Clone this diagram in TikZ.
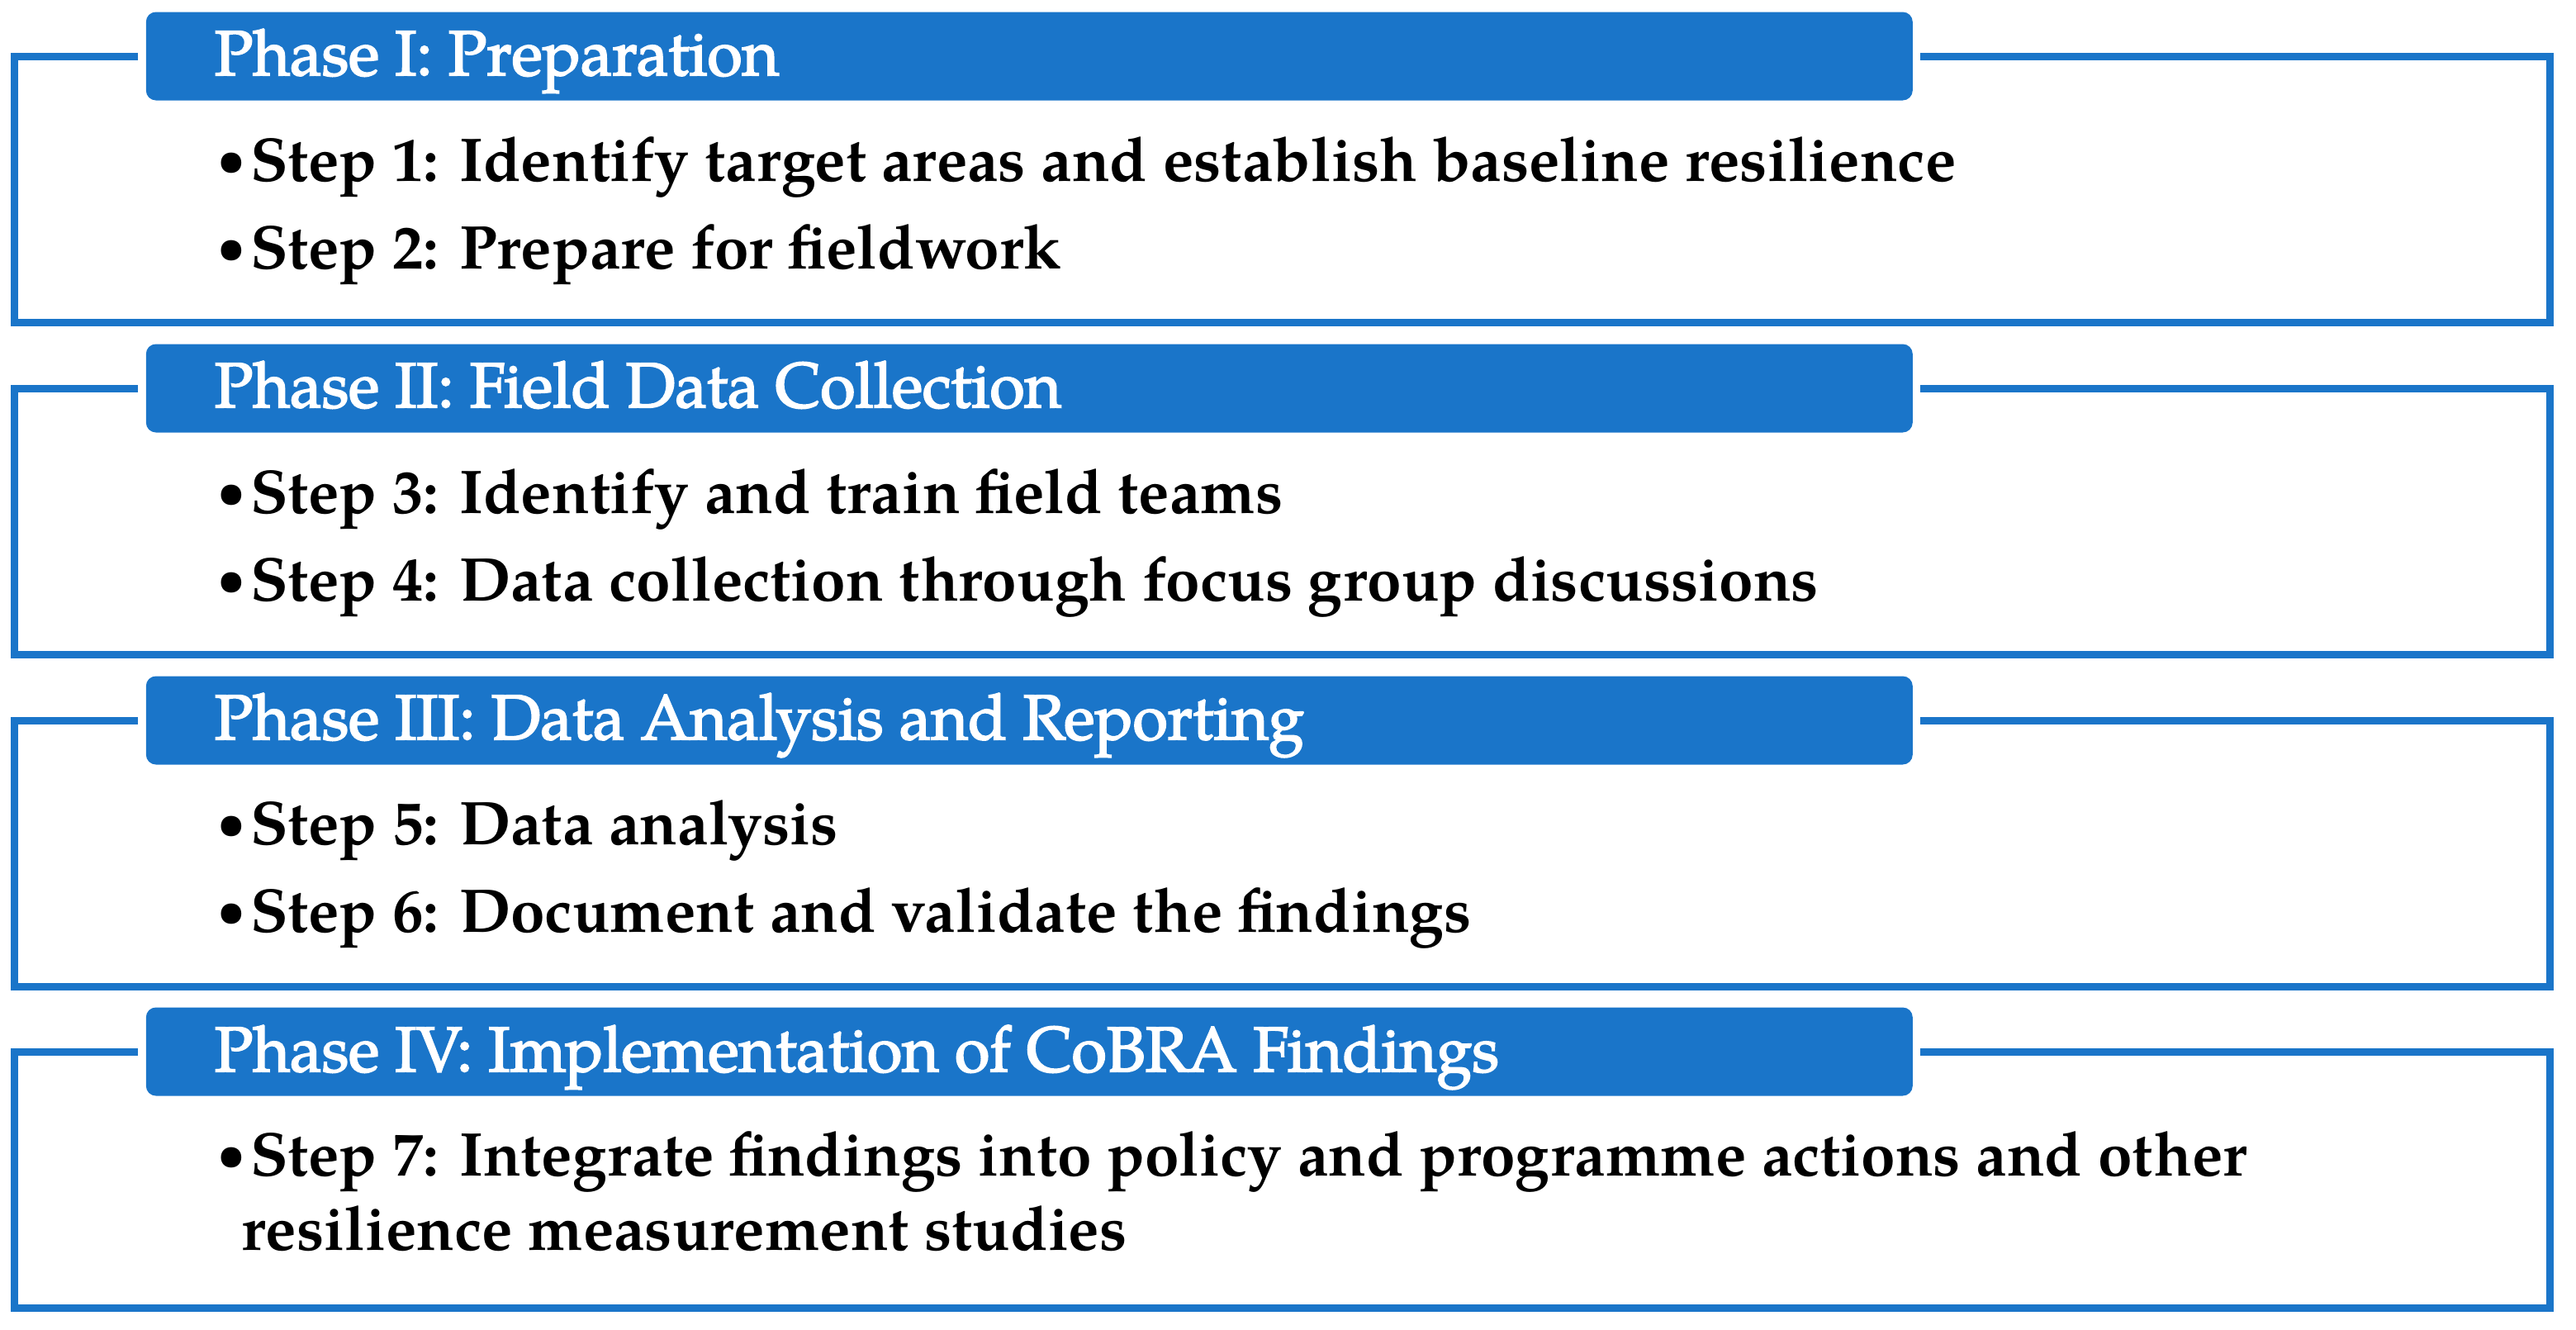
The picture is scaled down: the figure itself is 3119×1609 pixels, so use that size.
\documentclass[tikz,border=0pt]{standalone}
\usepackage{fontspec}
\setmainfont{TeX Gyre Pagella}
\newfontfamily\headfont{TeX Gyre Pagella}[FakeBold=2.5]
\definecolor{phaseblue}{RGB}{26,117,201}
\newcommand\stepbul{\makebox[10pt][l]{\raisebox{1.9pt}{\scalebox{0.75}{•}}}}
\begin{document}
\begin{tikzpicture}[x=0.25pt,y=-0.25pt,
  frame/.style={draw=phaseblue,line width=2.25pt,line join=miter},
  header/.style={fill=phaseblue,rounded corners=3pt,inner sep=0pt,anchor=west,
    minimum width=534.75pt,minimum height=26.75pt},
  headtext/.style={anchor=base west,inner sep=0pt,text=white,
    font=\fontsize{19.25}{23}\headfont},
  steptext/.style={anchor=base west,inner sep=0pt,
    font=\fontsize{18.7}{23}\selectfont\bfseries}]
\useasboundingbox (0,0) rectangle (3119,1609);

% Phase I
\draw[frame] (167,68) -- (17.5,68) -- (17.5,390) -- (3087.5,390) -- (3087.5,68) -- (2325,68);
\node[header] (h1) at (176,68) {};
\node[headtext] (h1t) at (259,91) {Phase I: Preparation};
\node[steptext] (s1) at (263,219) {\stepbul Step 1: Identify target areas and establish baseline resilience};
\node[steptext] (s2) at (263,325) {\stepbul Step 2: Prepare for fieldwork};

% Phase II
\draw[frame] (167,470) -- (17.5,470) -- (17.5,792) -- (3087.5,792) -- (3087.5,470) -- (2325,470);
\node[header] (h2) at (176,470) {};
\node[headtext] (h2t) at (259,493) {Phase II: Field Data Collection};
\node[steptext] (s3) at (263,621) {\stepbul Step 3: Identify and train field teams};
\node[steptext] (s4) at (263,727) {\stepbul Step 4: Data collection through focus group discussions};

% Phase III
\draw[frame] (167,872) -- (17.5,872) -- (17.5,1194) -- (3087.5,1194) -- (3087.5,872) -- (2325,872);
\node[header] (h3) at (176,872) {};
\node[headtext] (h3t) at (259,895) {Phase III: Data Analysis and Reporting};
\node[steptext] (s5) at (263,1022) {\stepbul Step 5: Data analysis};
\node[steptext] (s6) at (263,1128) {\stepbul Step 6: Document and validate the findings};

% Phase IV
\draw[frame] (167,1273) -- (17.5,1273) -- (17.5,1583) -- (3087.5,1583) -- (3087.5,1273) -- (2325,1273);
\node[header] (h4) at (176,1273) {};
\node[headtext] (h4t) at (259,1297) {Phase IV: Implementation of CoBRA Findings};
\node[steptext] (s7) at (263,1423) {\stepbul Step 7: Integrate findings into policy and programme actions and other};
\node[steptext] (s7b) at (292,1513) {resilience measurement studies};
\end{tikzpicture}
\end{document}
